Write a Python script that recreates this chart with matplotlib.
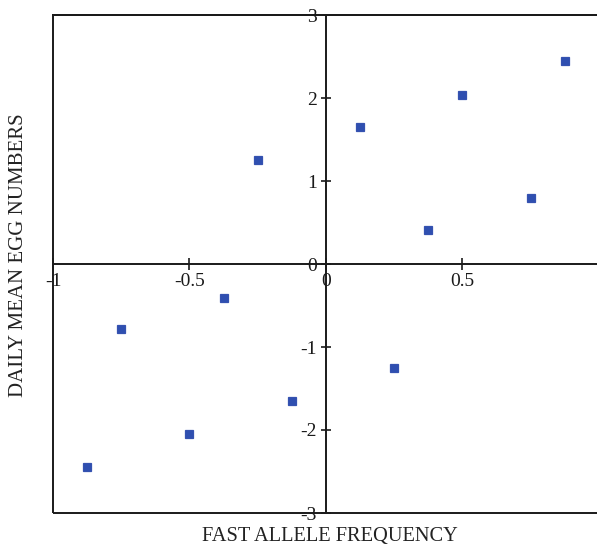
import numpy as np
import matplotlib
matplotlib.use("Agg")
import matplotlib.pyplot as plt
from matplotlib.patches import Rectangle

plt.rcParams['font.family'] = ['Liberation Serif', 'DejaVu Serif']

# fast allele frequency vs daily mean egg numbers
freq = [-0.875, -0.75, -0.5, -0.375, -0.25, -0.125, 0.125, 0.25, 0.375, 0.5, 0.75, 0.875]
eggs = [-2.45, -0.78, -2.05, -0.41, 1.25, -1.65, 1.65, -1.25, 0.41, 2.04, 0.79, 2.45]

xticks = [-1, -0.5, 0, 0.5]
xtick_labels = ['-1', '-0.5', '0', '0.5']
yticks = [-3, -2, -1, 0, 1, 2, 3]
ytick_labels = ['-3', '-2', '-1', '0', '1', '2', '3']

fig = plt.figure(figsize=(5.97, 5.48), dpi=100)
ax = fig.add_axes([53/597, 35/548, 546/597, 498/548])

ax.plot(freq, eggs, 's', color='#2f4fb0', markersize=5.2, markeredgewidth=0.9,
        markeredgecolor='#3552b0', zorder=3)

ax.set_xlim(-1, 1)
ax.set_ylim(-3, 3)

# axes through the origin
ax.spines['left'].set_position('zero')
ax.spines['bottom'].set_position('zero')
for s in ['left', 'bottom', 'top', 'right']:
    ax.spines[s].set_linewidth(1.4)
    ax.spines[s].set_color('#1a1a1a')

# outer frame left/bottom
ax.add_patch(Rectangle((0, 0), 1, 1, transform=ax.transAxes, fill=False,
                       lw=1.4, edgecolor='#1a1a1a', clip_on=False, zorder=2))

ax.set_xticks(xticks)
ax.set_xticklabels(xtick_labels)
ax.set_yticks(yticks)
ax.set_yticklabels(ytick_labels)
ax.tick_params(axis='x', direction='inout', length=9, width=1.2, labelsize=14,
               pad=2, colors='#1a1a1a')
ax.tick_params(axis='y', direction='inout', length=7, width=1.2, labelsize=14,
               pad=3, colors='#1a1a1a')

fig.text(330/597, 1 - 536/548, 'FAST ALLELE FREQUENCY', ha='center', va='center',
         fontsize=14.7, color='#222222')
fig.text(19/597, 1 - 255/548, 'DAILY MEAN EGG NUMBERS', ha='center', va='center',
         rotation=90, fontsize=15, color='#222222')

fig.savefig('out.png', dpi=100)
